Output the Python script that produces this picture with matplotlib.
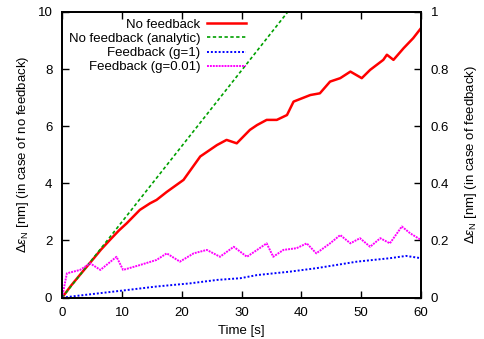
import matplotlib
matplotlib.use("Agg")
import matplotlib.pyplot as plt
import numpy as np

plt.rcParams['font.family'] = ['Liberation Sans', 'DejaVu Sans']
plt.rcParams['mathtext.fontset'] = 'custom'
plt.rcParams['mathtext.rm'] = 'Liberation Sans'
plt.rcParams['mathtext.it'] = 'Liberation Sans:italic'

# No feedback (left axis, nm)
red_t = [0, 1.5, 3.0, 4.2, 5.2, 6.5, 8.0, 9.5, 10.8, 13.0, 14.7, 15.8, 17.5, 20.3, 23.1, 25.9, 27.5, 29.2,
         31.4, 32.6, 34.2, 35.9, 37.6, 38.7, 41.5, 43.1, 44.8, 46.5, 48.2, 50.1,
         51.5, 53.7, 54.3, 55.4, 57.1, 58.7, 60.0]
red_y = [0, 0.42, 0.80, 1.10, 1.35, 1.68, 2.02, 2.35, 2.60, 3.07, 3.30, 3.42, 3.70, 4.12, 4.94, 5.34, 5.52, 5.40,
         5.87, 6.04, 6.22, 6.22, 6.39, 6.86, 7.09, 7.15, 7.56, 7.68, 7.91, 7.68,
         7.97, 8.32, 8.50, 8.32, 8.73, 9.08, 9.43]

# No feedback analytic (left axis, nm)
green_t = [0, 60]
green_y = [0, 15.9]

# Feedback g=1 (right axis, nm)
blue_t = [0, 3.6, 10.2, 15.8, 21.4, 25.9, 29.8, 32.6, 38.1, 42.5, 49.3, 54.8, 57.5, 60.0]
blue_y = [0, 0.009, 0.025, 0.039, 0.050, 0.062, 0.068, 0.079, 0.091, 0.103, 0.126, 0.138, 0.146, 0.138]

# Feedback g=0.01 (right axis, nm)
mag_t = [0, 0.8, 3.0, 4.7, 6.4, 9.1, 10.2, 13.0, 15.8, 17.5, 19.7, 22.0, 24.2, 26.4, 28.7,
         30.9, 32.6, 34.2, 35.3, 37.0, 39.2, 40.9, 42.5, 44.8, 46.5, 48.2, 49.8,
         51.5, 53.2, 54.8, 56.8, 58.2, 60.0]
mag_y = [0, 0.085, 0.097, 0.120, 0.097, 0.143, 0.097, 0.114, 0.132, 0.155, 0.126, 0.155, 0.167,
         0.143, 0.178, 0.143, 0.167, 0.190, 0.143, 0.167, 0.173, 0.190, 0.155, 0.190,
         0.219, 0.190, 0.208, 0.178, 0.208, 0.190, 0.249, 0.225, 0.202]

labels = ["No feedback", "No feedback (analytic)", "Feedback (g=1)", "Feedback (g=0.01)"]

FS = 9.5

fig = plt.figure(figsize=(4.85, 3.39), dpi=100)
ax = fig.add_axes([0.128, 0.122, 0.74, 0.843])
ax2 = ax.twinx()

l1, = ax.plot(red_t, red_y, color='#ff0000', lw=1.8, label=labels[0])
l2, = ax.plot(green_t, green_y, color='#00a000', lw=1.2, ls=(0, (2, 1.5)), label=labels[1])
l3, = ax2.plot(blue_t, blue_y, color='#0000ff', lw=1.4, ls=(0, (1, 1)), label=labels[2])
l4, = ax2.plot(mag_t, mag_y, color='#ff00ff', lw=1.4, ls=(0, (1, 0.5)), label=labels[3])

ax.set_xlim(0, 60)
ax.set_ylim(0, 10)
ax2.set_ylim(0, 1)
ax.set_xticks(range(0, 61, 10))
ax.set_yticks(range(0, 11, 2))
ax2.set_yticks([0, 0.2, 0.4, 0.6, 0.8, 1])
ax2.set_yticklabels(['0', '0.2', '0.4', '0.6', '0.8', '1'])

ax.tick_params(axis='both', direction='in', length=5, width=1, labelsize=FS, top=True, pad=7)
ax.tick_params(axis='y', right=False)
ax2.tick_params(axis='y', direction='in', length=5, width=1, labelsize=FS, pad=7)

for a in (ax, ax2):
    for s in a.spines.values():
        s.set_linewidth(1.3)

ax.set_xlabel("Time [s]", fontsize=FS, labelpad=4)
ax.set_ylabel(r"$\Delta\varepsilon_{\rm N}$ [nm] (in case of no feedback)", fontsize=FS, labelpad=5)
ax2.set_ylabel(r"$\Delta\varepsilon_{\rm N}$ [nm] (in case of feedback)", fontsize=FS, labelpad=10)

leg = ax.legend(handles=[l1, l2, l3, l4], loc='upper left', markerfirst=False, frameon=False,
                fontsize=FS, handlelength=3.0, handletextpad=0.5, labelspacing=0.15,
                borderaxespad=0.1, bbox_to_anchor=(0.0, 1.0))

fig.savefig("out.png", dpi=100)
